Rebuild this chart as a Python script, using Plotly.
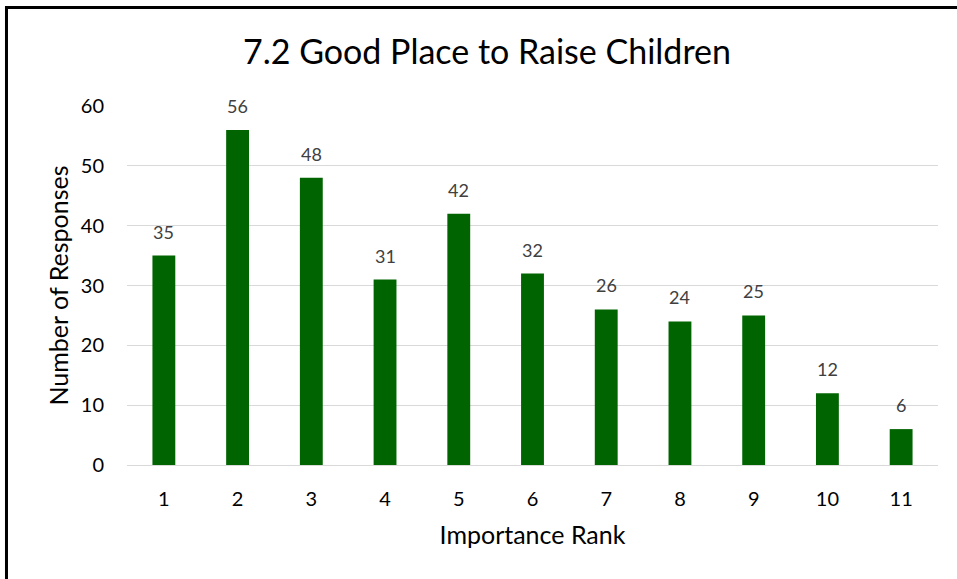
import plotly.graph_objects as go

# Survey results: how respondents ranked "good place to raise children"
ranks = ["1", "2", "3", "4", "5", "6", "7", "8", "9", "10", "11"]
responses = [35, 56, 48, 31, 42, 32, 26, 24, 25, 12, 6]
y_ticks = [0, 10, 20, 30, 40, 50, 60]

FONT = "Lato"
BAR_GREEN = "#006400"

fig = go.Figure(
    go.Bar(
        x=ranks,
        y=responses,
        width=0.31,
        marker=dict(color=BAR_GREEN, line=dict(width=0)),
        hoverinfo="x+y",
    )
)

# Value labels above each bar (category axis positions are indices)
for i, v in enumerate(responses):
    fig.add_annotation(
        x=i, y=v, text=str(v), showarrow=False,
        yanchor="middle", yshift=24,
        font=dict(family=FONT, size=18, color="#404040"),
    )

# Outer frame around the chart
fig.add_shape(
    type="rect", xref="paper", yref="paper",
    x0=-0.1486, x1=1.03, y0=-0.33, y1=1.2744,
    line=dict(color="black", width=3), fillcolor="rgba(0,0,0,0)",
    layer="above",
)

fig.update_layout(
    width=957,
    height=579,
    margin=dict(l=127, r=19, t=106, b=114),
    paper_bgcolor="white",
    plot_bgcolor="white",
    showlegend=False,
    title=dict(
        text="7.2 Good Place to Raise Children",
        x=487 / 957, xanchor="center", xref="container",
        y=1 - 52 / 579, yanchor="middle", yref="container",
        font=dict(family=FONT, size=34, color="black"),
    ),
    xaxis=dict(
        type="category",
        tickfont=dict(family=FONT, size=20, color="black"),
        showgrid=False,
        showline=False,
        ticks="",
        ticklabelstandoff=20,
        title=dict(text="Importance Rank", font=dict(family=FONT, size=25, color="black"), standoff=17),
    ),
    yaxis=dict(
        range=[0, 60],
        tickvals=y_ticks,
        tickfont=dict(family=FONT, size=20, color="black"),
        showgrid=True,
        gridcolor="#d9d9d9",
        gridwidth=1,
        zeroline=True,
        zerolinecolor="#d9d9d9",
        zerolinewidth=1,
        showline=False,
        ticks="",
        ticklabelstandoff=22,
        title=dict(text="Number of Responses", font=dict(family=FONT, size=25, color="black"), standoff=5),
    ),
)

fig.write_html("out.html")
